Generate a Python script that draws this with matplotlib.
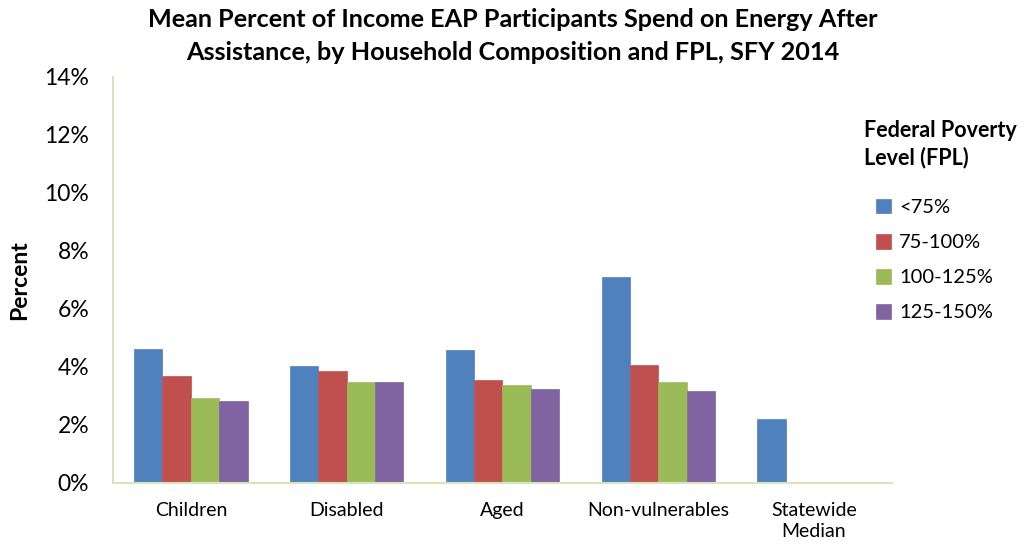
import matplotlib
matplotlib.use("Agg")
import matplotlib.pyplot as plt
import numpy as np

categories = ["Children", "Disabled", "Aged", "Non-vulnerables", "Statewide\nMedian"]
series_names = ["<75%", "75-100%", "100-125%", "125-150%"]
lt75 = [4.63, 4.02, 4.60, 7.09, 2.22]
p75_100 = [3.69, 3.86, 3.55, 4.07, np.nan]
p100_125 = [2.92, 3.49, 3.38, 3.48, np.nan]
p125_150 = [2.83, 3.49, 3.25, 3.16, np.nan]
series = [lt75, p75_100, p100_125, p125_150]
colors = ["#4F81BD", "#C0504D", "#9BBB59", "#8064A2"]
yticks = [0, 2, 4, 6, 8, 10, 12, 14]

plt.rcParams['font.family'] = ['Lato', 'DejaVu Sans']

fig = plt.figure(figsize=(10.25, 5.46), dpi=100)
ax = fig.add_axes([0.1102, 0.1154, 0.760, 0.7436])

x = np.arange(len(categories))
w = 0.182
for i, (vals, c, name) in enumerate(zip(series, colors, series_names)):
    ax.bar(x + (i - 1.5) * w, vals, w, color=c, label=name,
           edgecolor=c, linewidth=0.5)

ax.set_xlim(-0.5, len(categories) - 0.5)
ax.set_ylim(0, 14)
ax.set_yticks(yticks)
ax.set_yticklabels([f"{t}%" for t in yticks], fontsize=16.5)
ax.set_xticks(x)
ax.set_xticklabels(categories, fontsize=14, linespacing=1.25)
ax.tick_params(length=0)
ax.tick_params(axis='x', pad=14)
ax.tick_params(axis='y', pad=17)
for s in ["top", "right"]:
    ax.spines[s].set_visible(False)
for s in ["left", "bottom"]:
    ax.spines[s].set_color("#D7E4BD")
    ax.spines[s].set_linewidth(1.5)

ax.set_ylabel("Percent", fontsize=16.5, fontweight="bold", labelpad=10)

fig.suptitle("Mean Percent of Income EAP Participants Spend on Energy After\n"
             "Assistance, by Household Composition and FPL, SFY 2014",
             fontsize=18.2, fontweight="bold", y=0.985, x=0.5, linespacing=1.5)

fig.text(864 / 1025, 1 - 144 / 546, "Federal Poverty\nLevel (FPL)",
         fontsize=15.5, fontweight="bold", ha="left", va="center", linespacing=1.35)

leg = ax.legend(loc="upper left", bbox_to_anchor=(0.956, 0.745), frameon=False,
                fontsize=14.5, handlelength=0.75, handleheight=0.75,
                handletextpad=0.4, labelspacing=0.88)

fig.savefig("out.png", dpi=100)
